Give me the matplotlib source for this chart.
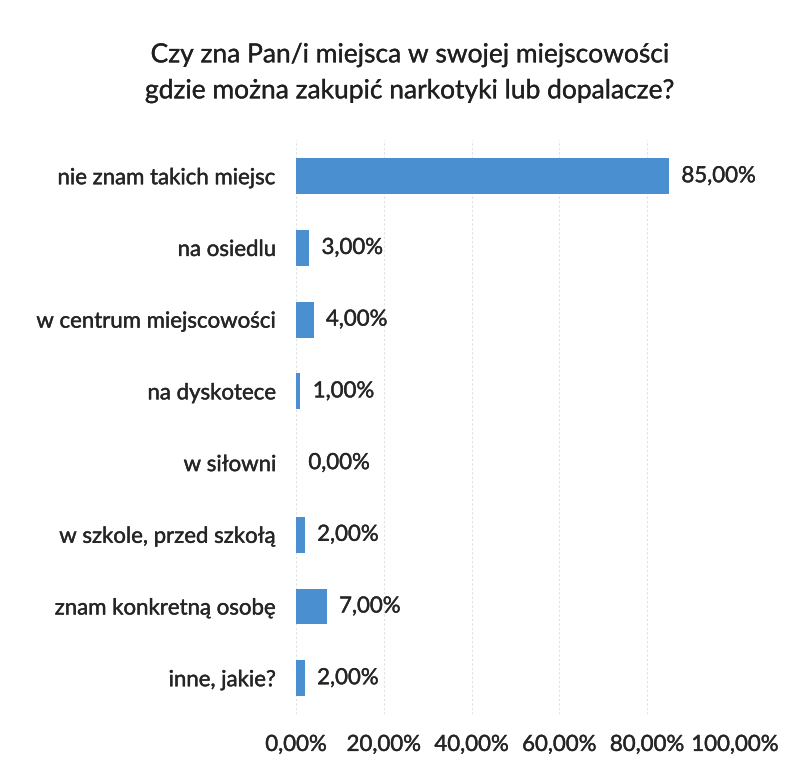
import matplotlib.pyplot as plt
import matplotlib.patheffects as pe
import numpy as np

categories = [
    "nie znam takich miejsc",
    "na osiedlu",
    "w centrum miejscowości",
    "na dyskotece",
    "w siłowni",
    "w szkole, przed szkołą",
    "znam konkretną osobę",
    "inne, jakie?",
]
values = [85, 3, 4, 1, 0, 2, 7, 2]
ticks = [0, 20, 40, 60, 80, 100]
title = "Czy zna Pan/i miejsca w swojej miejscowości\ngdzie można zakupić narkotyki lub dopalacze?"

plt.rcParams['font.family'] = ['Lato', 'DejaVu Sans']

ink = '#252525'
# slightly heavier strokes for all text
heavy = [pe.withStroke(linewidth=0.3, foreground=ink)]

fig = plt.figure(figsize=(7.98, 7.67), dpi=100)
ax = fig.add_axes([0.371, 0.069, 0.55, 0.748])

y = np.arange(len(categories))
ax.barh(y, values, height=0.5, color='#4a90d0', linewidth=0, zorder=2)

for yi, v in zip(y, values):
    ax.text(v + 2.8, yi, f"{v:.2f}%".replace('.', ','), va='center', ha='left',
            fontsize=16, color=ink, path_effects=heavy)

ax.set_xlim(0, 100)
ax.set_ylim(len(categories) - 0.5, -0.5)
ax.set_yticks(y)
ax.set_yticklabels(categories, fontsize=16, color=ink)
ax.set_xticks(ticks)
ax.set_xticklabels([f"{t:.2f}%".replace('.', ',') for t in ticks], fontsize=16, color=ink)
for lbl in ax.get_xticklabels() + ax.get_yticklabels():
    lbl.set_path_effects(heavy)
ax.tick_params(axis='both', length=0)
ax.tick_params(axis='y', pad=14)
ax.tick_params(axis='x', pad=15)

ax.grid(axis='x', color='#e0e0e0', linestyle=(0, (2, 2)), linewidth=0.8, zorder=0)
for s in ax.spines.values():
    s.set_visible(False)

fig.text(0.514, 0.905, title, ha='center', va='center', fontsize=19,
         color='#1f1f1f', linespacing=1.55,
         path_effects=[pe.withStroke(linewidth=0.2, foreground='#1f1f1f')])

fig.savefig('out.png', dpi=100, facecolor='white')
